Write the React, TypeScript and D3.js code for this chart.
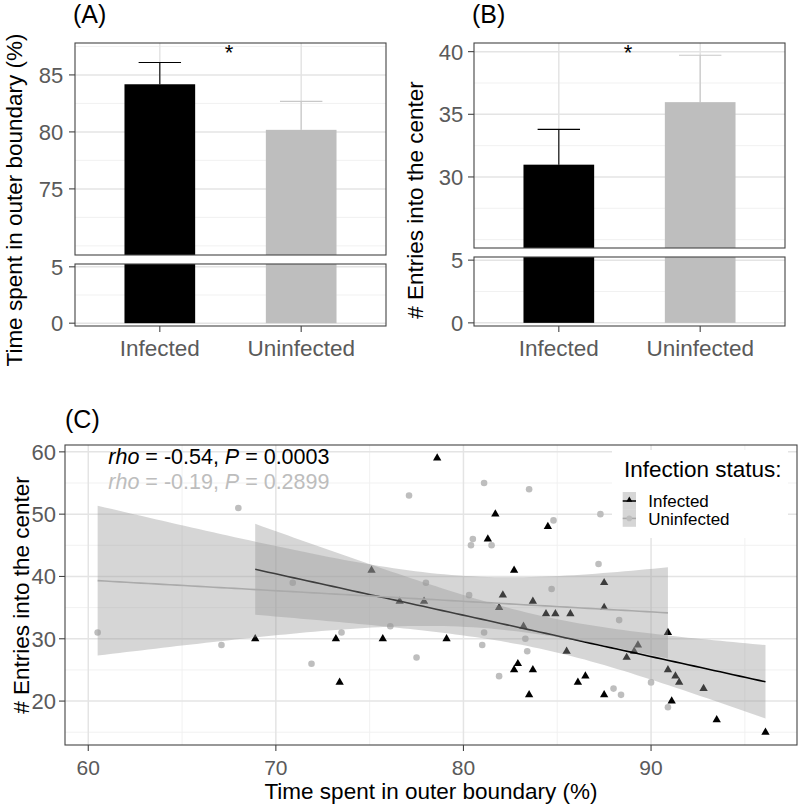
import React from 'react';
import * as d3 from 'd3';

const FONT = "'Liberation Sans', Arial, Helvetica, sans-serif";

// ---- Data ----
const groups = ['Infected', 'Uninfected'];
const barColors = ['#000000', '#bebebe'];
const errColors = ['#000000', '#c8c8c8'];
const timeMeans = [84.18, 80.18];
const timeErrTop = [86.09, 82.68];
const entryMeans = [30.98, 35.97];
const entryErrTop = [33.8, 39.71];

const aTopTicks = [75, 80, 85];
const aTopMinor = [70, 72.5, 77.5, 82.5, 87.5];
const bTopTicks = [30, 35, 40];
const bTopMinor = [25, 27.5, 32.5, 37.5];
const lowTicks = [0, 5];
const lowMinor = [2.5];

const infX = [68.9, 73.2, 73.4, 75.1, 75.7, 76.6, 77.9, 78.6, 79.1, 81.3, 81.7, 81.9, 82.1, 82.7, 82.7, 82.9, 83.2, 83.5, 83.7, 83.7, 84.4, 84.5, 84.9, 85.5, 85.7, 86.1, 86.5, 87.5, 87.5, 87.5, 88.7, 89.1, 89.3, 90.9, 90.9, 91.1, 91.3, 91.5, 92.8, 93.5, 96.1];
const infY = [30, 30, 23, 41, 30, 36, 36, 59, 30, 46, 50, 35, 37, 41, 25, 26, 32, 21, 36, 25, 34, 48, 34, 28, 34, 23, 24, 39, 35, 21, 27, 28, 29, 31, 25, 20, 24, 23, 22, 17, 15];
const uninfX = [60.5, 67.1, 68.0, 70.9, 71.9, 73.5, 76.1, 77.1, 77.5, 78.0, 80.3, 80.4, 80.5, 81.0, 81.1, 81.1, 81.5, 81.9, 83.3, 83.4, 83.5, 84.7, 84.8, 87.2, 87.3, 88.0, 88.3, 88.4, 90.0, 90.9];
const uninfY = [31, 29, 51, 39, 26, 31, 32, 53, 27, 39, 37, 45, 46, 29, 55, 31, 45, 24, 30, 28, 54, 38, 49, 42, 50, 22, 33, 21, 23, 19];

const cXTicks = [60, 70, 80, 90];
const cXMinor = [65, 75, 85, 95];
const cYTicks = [20, 30, 40, 50, 60];
const cYMinor = [15, 25, 35, 45, 55];
const rhoValues = ['-0.54', '-0.19'];
const pValues = ['0.0003', '0.2899'];
const annColors = ['#000000', '#bdbdbd'];
const tQuantiles = [2.0227, 2.0484];

const GRID_MAJOR = '#e4e4e4';
const GRID_MINOR = '#efefef';
const BORDER = '#444444';
const TICK_TEXT = '#5a5a5a';

type BarProps = {
  x0: number; x1: number; topY0: number; topY1: number; lowY0: number; lowY1: number;
  topDomain: [number, number]; means: number[]; errTop: number[]; ticks: number[]; minor: number[];
  title: string; titleX: number; tag: string; tagX: number; labelRight: number;
};

function BarPanel(p: BarProps) {
  const x = d3.scalePoint<string>().domain(groups).range([p.x0, p.x1]).padding(0.6);
  const step = x.step();
  const yTop = d3.scaleLinear().domain(p.topDomain).range([p.topY1, p.topY0]);
  const yLow = d3.scaleLinear().domain([-0.25, 5.25]).range([p.lowY1, p.lowY0]);
  const bw = step * 0.5;
  const ew = step * 0.3;
  const mid = (x(groups[0])! + x(groups[1])!) / 2;
  return (
    <g>
      <text x={p.tagX} y={23} fontSize={25} fontFamily={FONT}>{p.tag}</text>
      {/* top panel */}
      <rect x={p.x0} y={p.topY0} width={p.x1 - p.x0} height={p.topY1 - p.topY0} fill="#fff" />
      {p.minor.map((v) => (
        <line key={'tm' + v} x1={p.x0} x2={p.x1} y1={yTop(v)} y2={yTop(v)} stroke={GRID_MINOR} strokeWidth={0.9} />
      ))}
      {p.ticks.map((v) => (
        <line key={'tM' + v} x1={p.x0} x2={p.x1} y1={yTop(v)} y2={yTop(v)} stroke={GRID_MAJOR} strokeWidth={1.5} />
      ))}
      {groups.map((g) => (
        <line key={'vg' + g} x1={x(g)} x2={x(g)} y1={p.topY0} y2={p.topY1} stroke={GRID_MAJOR} strokeWidth={1.5} />
      ))}
      {groups.map((g, i) => (
        <rect key={'b' + g} x={x(g)! - bw / 2} y={yTop(p.means[i])} width={bw} height={p.topY1 - yTop(p.means[i])} fill={barColors[i]} />
      ))}
      {groups.map((g, i) => (
        <g key={'e' + g} stroke={errColors[i]} strokeWidth={1.1}>
          <line x1={x(g)} x2={x(g)} y1={yTop(p.means[i])} y2={yTop(p.errTop[i])} />
          <line x1={x(g)! - ew / 2} x2={x(g)! + ew / 2} y1={yTop(p.errTop[i])} y2={yTop(p.errTop[i])} />
        </g>
      ))}
      <text x={mid - 1.5} y={60} fontSize={22} fontFamily={FONT} textAnchor="middle">*</text>
      <rect x={p.x0} y={p.topY0} width={p.x1 - p.x0} height={p.topY1 - p.topY0} fill="none" stroke={BORDER} strokeWidth={1.1} />
      {p.ticks.map((v) => (
        <g key={'tt' + v}>
          <line x1={p.x0 - 6} x2={p.x0} y1={yTop(v)} y2={yTop(v)} stroke={BORDER} strokeWidth={1.1} />
          <text x={p.labelRight} y={yTop(v)} dy="0.36em" textAnchor="end" fontSize={22} fill={TICK_TEXT} fontFamily={FONT}>{v}</text>
        </g>
      ))}
      {/* lower panel */}
      <rect x={p.x0} y={p.lowY0} width={p.x1 - p.x0} height={p.lowY1 - p.lowY0} fill="#fff" />
      {lowMinor.map((v) => (
        <line key={'lm' + v} x1={p.x0} x2={p.x1} y1={yLow(v)} y2={yLow(v)} stroke={GRID_MINOR} strokeWidth={0.9} />
      ))}
      {lowTicks.map((v) => (
        <line key={'lM' + v} x1={p.x0} x2={p.x1} y1={yLow(v)} y2={yLow(v)} stroke={GRID_MAJOR} strokeWidth={1.5} />
      ))}
      {groups.map((g, i) => (
        <rect key={'lb' + g} x={x(g)! - bw / 2} y={p.lowY0} width={bw} height={yLow(0) - p.lowY0} fill={barColors[i]} />
      ))}
      <rect x={p.x0} y={p.lowY0} width={p.x1 - p.x0} height={p.lowY1 - p.lowY0} fill="none" stroke={BORDER} strokeWidth={1.1} />
      {lowTicks.map((v) => (
        <g key={'lt' + v}>
          <line x1={p.x0 - 6} x2={p.x0} y1={yLow(v)} y2={yLow(v)} stroke={BORDER} strokeWidth={1.1} />
          <text x={p.labelRight} y={yLow(v)} dy="0.36em" textAnchor="end" fontSize={22} fill={TICK_TEXT} fontFamily={FONT}>{v}</text>
        </g>
      ))}
      {groups.map((g) => (
        <g key={'xt' + g}>
          <line x1={x(g)} x2={x(g)} y1={p.lowY1} y2={p.lowY1 + 6} stroke={BORDER} strokeWidth={1.1} />
          <text x={x(g)} y={355.5} textAnchor="middle" fontSize={22.5} fill={TICK_TEXT} fontFamily={FONT}>{g}</text>
        </g>
      ))}
      <text transform={`translate(${p.titleX},200) rotate(-90)`} textAnchor="middle" fontSize={22.5} fontFamily={FONT}>{p.title}</text>
    </g>
  );
}

function lmBand(xs: number[], ys: number[], t: number) {
  const n = xs.length;
  const xm = d3.mean(xs)!;
  const ym = d3.mean(ys)!;
  let sxx = 0, sxy = 0;
  xs.forEach((xv, i) => { sxx += (xv - xm) ** 2; sxy += (xv - xm) * (ys[i] - ym); });
  const b = sxy / sxx;
  const a = ym - b * xm;
  let rss = 0;
  xs.forEach((xv, i) => { rss += (ys[i] - a - b * xv) ** 2; });
  const s = Math.sqrt(rss / (n - 2));
  const [lo, hi] = d3.extent(xs) as [number, number];
  const pts = d3.range(80).map((k) => {
    const xv = lo + ((hi - lo) * k) / 79;
    const fit = a + b * xv;
    const se = s * Math.sqrt(1 / n + (xv - xm) ** 2 / sxx);
    return { x: xv, y: fit, lo: fit - t * se, hi: fit + t * se };
  });
  return pts;
}

function ScatterPanel() {
  const L = 65, R = 797, T = 445, B = 745;
  const x = d3.scaleLinear().domain([58.76, 97.78]).range([L, R]);
  const y = d3.scaleLinear().domain([12.95, 61.1]).range([B, T]);
  const tri = d3.symbol().type(d3.symbolTriangle).size(30)();
  const triSmall = d3.symbol().type(d3.symbolTriangle).size(16)();
  const bands = [lmBand(infX, infY, tQuantiles[0]), lmBand(uninfX, uninfY, tQuantiles[1])];
  const lineColors = ['#000000', '#aaaaaa'];
  const area = d3.area<any>().x((d) => x(d.x)).y0((d) => y(d.lo)).y1((d) => y(d.hi));
  const line = d3.line<any>().x((d) => x(d.x)).y((d) => y(d.y));
  return (
    <g>
      <text x={65} y={428} fontSize={25} fontFamily={FONT}>(C)</text>
      <rect x={L} y={T} width={R - L} height={B - T} fill="#fff" />
      {cYMinor.map((v) => <line key={'ym' + v} x1={L} x2={R} y1={y(v)} y2={y(v)} stroke={GRID_MINOR} strokeWidth={0.9} />)}
      {cXMinor.map((v) => <line key={'xm' + v} x1={x(v)} x2={x(v)} y1={T} y2={B} stroke={GRID_MINOR} strokeWidth={0.9} />)}
      {cYTicks.map((v) => <line key={'yM' + v} x1={L} x2={R} y1={y(v)} y2={y(v)} stroke={GRID_MAJOR} strokeWidth={1.5} />)}
      {cXTicks.map((v) => <line key={'xM' + v} x1={x(v)} x2={x(v)} y1={T} y2={B} stroke={GRID_MAJOR} strokeWidth={1.5} />)}
      {uninfX.map((xv, i) => <circle key={'u' + i} cx={x(xv)} cy={y(uninfY[i])} r={3.3} fill="#bebebe" />)}
      {infX.map((xv, i) => <path key={'i' + i} d={tri!} transform={`translate(${x(xv)},${y(infY[i])})`} fill="#000" />)}
      {bands.map((bd, gi) => (
        <g key={'band' + gi}>
          <path d={area(bd)!} fill="#999999" fillOpacity={0.4} />
          <path d={line(bd)!} fill="none" stroke={lineColors[gi]} strokeWidth={1.6} />
        </g>
      ))}
      {rhoValues.map((r, i) => (
        <text key={'ann' + i} x={108.3} y={464 + i * 25.3} fontSize={21.5} fontFamily={FONT} fill={annColors[i]}>
          <tspan fontStyle="italic">rho</tspan>
          <tspan>{` = ${r}, `}</tspan>
          <tspan fontStyle="italic">P</tspan>
          <tspan>{` = ${pValues[i]}`}</tspan>
        </text>
      ))}
      {/* legend */}
      <rect x={612} y={450} width={176} height={88} fill="#fff" />
      <text x={624} y={477} fontSize={22.5} fontFamily={FONT}>Infection status:</text>
      {groups.map((g, i) => {
        const ky = 492 + i * 17.4;
        return (
          <g key={'lg' + g}>
            <rect x={622.7} y={ky} width={13.3} height={17.4} fill="#999999" fillOpacity={0.4} />
            <line x1={622.7} x2={636} y1={ky + 9} y2={ky + 9} stroke={lineColors[i]} strokeWidth={1.5} />
            {i === 0
              ? <path d={triSmall!} transform={`translate(629.3,${ky + 8})`} fill="#000" />
              : <circle cx={629.3} cy={ky + 9} r={2.8} fill="#bebebe" />}
            <text x={648.3} y={ky + 15.3} fontSize={17} fontFamily={FONT}>{g}</text>
          </g>
        );
      })}
      <rect x={L} y={T} width={R - L} height={B - T} fill="none" stroke={BORDER} strokeWidth={1.1} />
      {cYTicks.map((v) => (
        <g key={'yt' + v}>
          <line x1={L - 6} x2={L} y1={y(v)} y2={y(v)} stroke={BORDER} strokeWidth={1.1} />
          <text x={56} y={y(v)} dy="0.36em" textAnchor="end" fontSize={22} fill={TICK_TEXT} fontFamily={FONT}>{v}</text>
        </g>
      ))}
      {cXTicks.map((v) => (
        <g key={'xt' + v}>
          <line x1={x(v)} x2={x(v)} y1={B} y2={B + 6} stroke={BORDER} strokeWidth={1.1} />
          <text x={x(v)} y={775} textAnchor="middle" fontSize={21} fill={TICK_TEXT} fontFamily={FONT}>{v}</text>
        </g>
      ))}
      <text x={(L + R) / 2} y={799} textAnchor="middle" fontSize={22.5} fontFamily={FONT}>Time spent in outer boundary (%)</text>
      <text transform={`translate(29,${(T + B) / 2}) rotate(-90)`} textAnchor="middle" fontSize={22.5} fontFamily={FONT}># Entries into the center</text>
    </g>
  );
}

export default function App() {
  return (
    <svg width={800} height={807} style={{ position: 'absolute', left: 0, top: 0, background: '#fff' }}>
      <rect x={0} y={0} width={800} height={807} fill="#fff" />
      <BarPanel x0={75} x1={386} topY0={43} topY1={255} lowY0={264} lowY1={326} topDomain={[69.2, 87.8]}
        means={timeMeans} errTop={timeErrTop} ticks={aTopTicks} minor={aTopMinor}
        title="Time spent in outer boundary (%)" titleX={22} tag="(A)" tagX={73} labelRight={63.3} />
      <BarPanel x0={474} x1={785} topY0={43} topY1={248} lowY0={257} lowY1={326} topDomain={[24.33, 40.69]}
        means={entryMeans} errTop={entryErrTop} ticks={bTopTicks} minor={bTopMinor}
        title="# Entries into the center" titleX={423} tag="(B)" tagX={472} labelRight={463.3} />
      <ScatterPanel />
    </svg>
  );
}
